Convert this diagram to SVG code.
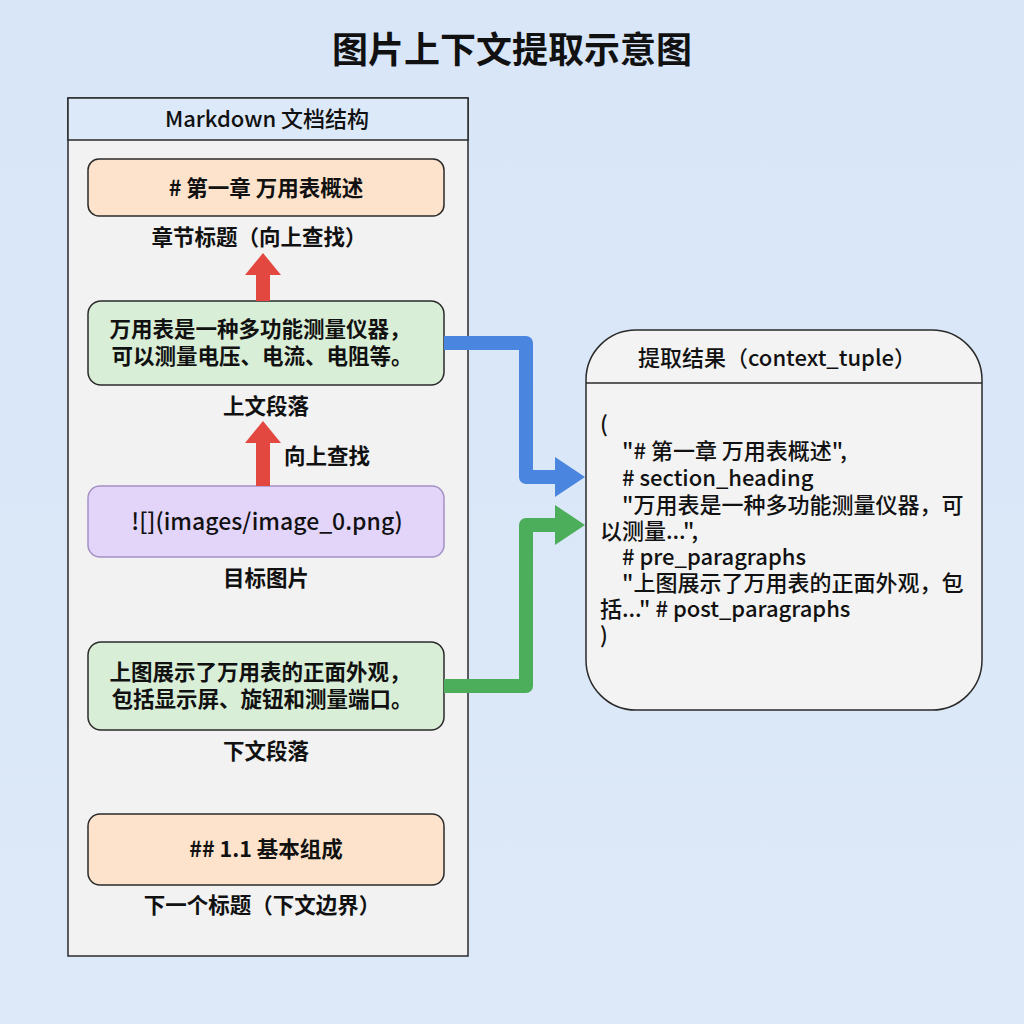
<svg xmlns="http://www.w3.org/2000/svg" width="1024" height="1024" viewBox="0 0 1024 1024">
<defs>
<linearGradient id="bg" x1="0" y1="0" x2="0" y2="1">
<stop offset="0" stop-color="#d8e6f8"/>
<stop offset="1" stop-color="#dde9f8"/>
</linearGradient>
<marker id="hRed" markerUnits="userSpaceOnUse" viewBox="0 0 22 36" refX="0" refY="18" markerWidth="22" markerHeight="36" orient="auto">
<path d="M0,0 L22,18 L0,36 z" fill="#e2483f"/>
</marker>
<marker id="hBlue" markerUnits="userSpaceOnUse" viewBox="0 0 30 40" refX="0" refY="20" markerWidth="30" markerHeight="40" orient="auto">
<path d="M0,0 L30,20 L0,40 z" fill="#4a86e0"/>
</marker>
<marker id="hGreen" markerUnits="userSpaceOnUse" viewBox="0 0 30 40" refX="0" refY="20" markerWidth="30" markerHeight="40" orient="auto">
<path d="M0,0 L30,20 L0,40 z" fill="#4cae5a"/>
</marker>
<style>
text{font-family:"Noto Sans CJK SC","Noto Sans",sans-serif;fill:#111;}
.title{font-size:36px;font-weight:700;text-anchor:middle;}
.hdr{font-size:22px;font-weight:500;text-anchor:middle;}
.nt{font-size:21.5px;font-weight:700;text-anchor:middle;}
.nr{font-size:23px;font-weight:500;text-anchor:middle;}
.lbl{font-size:21.5px;font-weight:700;text-anchor:middle;}
.code{font-size:22px;font-weight:500;}
.orange{fill:#fde3cc;stroke:#2a2a2a;stroke-width:1.5;}
.green{fill:#d9eed6;stroke:#2a2a2a;stroke-width:1.5;}
.purple{fill:#e3d5fa;stroke:#a491c4;stroke-width:1.5;}
.red{stroke:#e2483f;stroke-width:14;fill:none;}
.conn{stroke-width:14;fill:none;stroke-linejoin:round;}
</style>
</defs>
<rect width="1024" height="1024" fill="url(#bg)"/>
<text class="title" x="512" y="63">图片上下文提取示意图</text>

<g id="markdown-panel">
<rect x="68" y="98" width="400" height="858" fill="#f2f2f2" stroke="#2a2a2a" stroke-width="1.5"/>
<rect x="68" y="98" width="400" height="42" fill="#dce9f8" stroke="#2a2a2a" stroke-width="1.5"/>
<text class="hdr" x="267" y="127">Markdown 文档结构</text>
</g>

<g id="node-heading">
<rect class="orange" x="88" y="159" width="356" height="57" rx="11"/>
<text class="nt" x="266" y="196"># 第一章 万用表概述</text>
<text class="lbl" x="259" y="245">章节标题（向上查找）</text>
</g>

<g id="node-pre">
<rect class="green" x="88" y="301" width="356" height="84" rx="13"/>
<text class="nt"><tspan x="260" y="337">万用表是一种多功能测量仪器，</tspan><tspan x="262" y="364">可以测量电压、电流、电阻等。</tspan></text>
<text class="lbl" x="266" y="414">上文段落</text>
</g>

<g id="node-image">
<rect class="purple" x="88" y="486" width="356" height="71" rx="12"/>
<text class="nr" x="267" y="530">![](images/image_0.png)</text>
<text class="lbl" x="266" y="586">目标图片</text>
</g>

<g id="node-post">
<rect class="green" x="88" y="642" width="356" height="88" rx="13"/>
<text class="nt"><tspan x="260" y="680">上图展示了万用表的正面外观，</tspan><tspan x="262" y="707">包括显示屏、旋钮和测量端口。</tspan></text>
<text class="lbl" x="266" y="759">下文段落</text>
</g>

<g id="node-next">
<rect class="orange" x="88" y="814" width="356" height="71" rx="12"/>
<text class="nt" x="266" y="857">## 1.1 基本组成</text>
<text class="lbl" x="262" y="913">下一个标题（下文边界）</text>
</g>

<g id="node-result">
<rect x="586" y="330" width="396" height="380" rx="50" fill="#f3f3f3" stroke="#2a2a2a" stroke-width="1.5"/>
<line x1="586" y1="383" x2="982" y2="383" stroke="#2a2a2a" stroke-width="1.5"/>
<text class="hdr" x="777" y="366">提取结果（context_tuple）</text>
<text class="code"><tspan x="600" y="432">(</tspan><tspan x="622" y="459">"# 第一章 万用表概述",</tspan><tspan x="622" y="486"># section_heading</tspan><tspan x="622" y="513">"万用表是一种多功能测量仪器，可</tspan><tspan x="600" y="539">以测量...",</tspan><tspan x="622" y="565"># pre_paragraphs</tspan><tspan x="622" y="591">"上图展示了万用表的正面外观，包</tspan><tspan x="600" y="617">括..." # post_paragraphs</tspan><tspan x="600" y="643">)</tspan></text>
</g>

<g id="connectors">
<line class="red" x1="263" y1="301" x2="263" y2="275" marker-end="url(#hRed)"/>
<line class="red" x1="263" y1="486" x2="263" y2="443" marker-end="url(#hRed)"/>
<text class="lbl" x="327" y="464">向上查找</text>
<path class="conn" stroke="#4a86e0" d="M444,343 H526 V477 H555" marker-end="url(#hBlue)"/>
<path class="conn" stroke="#4cae5a" d="M444,686 H526 V525 H555" marker-end="url(#hGreen)"/>
</g>
</svg>
